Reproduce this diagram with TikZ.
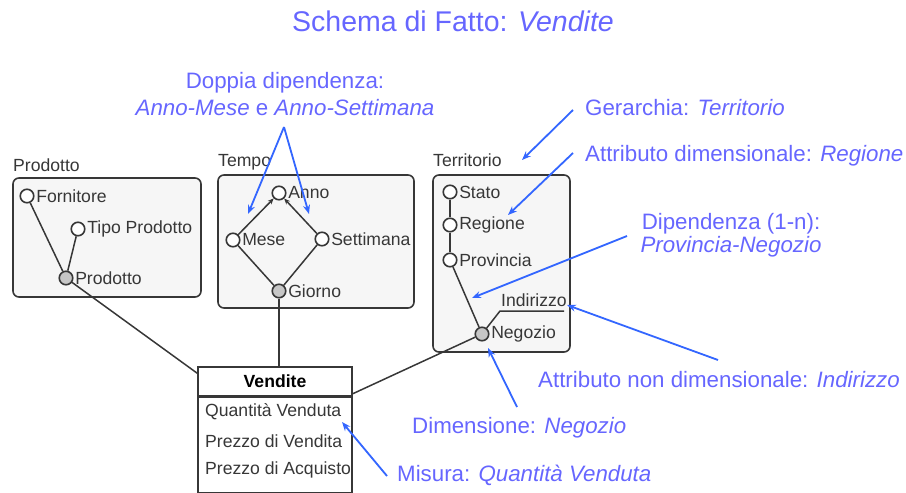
\documentclass[tikz,border=0pt]{standalone}
\usepackage{fontspec}
\setmainfont{Liberation Sans}
\usetikzlibrary{arrows.meta,calc}
\definecolor{annot}{RGB}{102,102,255}
\definecolor{annarr}{RGB}{51,102,255}
\definecolor{boxfill}{RGB}{246,246,246}
\definecolor{edge}{RGB}{55,55,55}
\begin{document}
\begin{tikzpicture}[x=1pt,y=-1pt,
 attr/.style={circle,draw=edge,line width=1.6pt,fill=white,minimum size=13.5pt,inner sep=0pt},
 dimattr/.style={attr,fill=gray!45},
 lbl/.style={font=\fontsize{17.6}{20}\selectfont,text=edge,anchor=west,inner sep=0pt},
 hier/.style={rounded corners=6pt,draw=edge,line width=1.6pt,fill=boxfill},
 link/.style={draw=edge,line width=1.5pt},
 dep/.style={link,-{Stealth[length=6pt,width=5pt]}},
 note/.style={font=\fontsize{22.3}{27}\selectfont,text=annot,inner sep=0pt},
 pointer/.style={draw=annarr,line width=1.8pt,-{Stealth[length=9pt,width=7pt]}}
]
\useasboundingbox (0,0) rectangle (906,493);

% title
\node[font=\fontsize{28.5}{32}\selectfont,text=annot,inner sep=0pt] (title) at (453,21) {Schema di Fatto: \textit{Vendite}};

% hierarchy boxes
\draw[hier] (13,178) rectangle (201,297);
\draw[hier] (218,175) rectangle (414,308);
\draw[hier] (433,175) rectangle (570,352);
\node[lbl] (tprod) at (13,165) {Prodotto};
\node[lbl] (ttempo) at (218,162) {Tempo};
\node[lbl] (tterr) at (433,160) {Territorio};

% Prodotto
\node[attr] (fornitore) at (27,196) {};
\node[attr] (tipo) at (78,229) {};
\node[dimattr] (prodotto) at (66,278) {};
\node[lbl] (fornitoreL) at ([xshift=1.5pt]fornitore.east) {Fornitore};
\node[lbl] (tipoL) at ([xshift=1.5pt]tipo.east) {Tipo Prodotto};
\node[lbl] (prodottoL) at ([xshift=1.5pt]prodotto.east) {Prodotto};
\draw[link] (fornitore) -- (prodotto);
\draw[link] (tipo) -- (prodotto);

% Tempo
\node[attr] (anno) at (279,193) {};
\node[attr] (mese) at (233,240) {};
\node[attr] (settimana) at (322,239) {};
\node[dimattr] (giorno) at (279,291) {};
\node[lbl] (annoL) at ([xshift=1.5pt]anno.east) {Anno};
\node[lbl] (meseL) at ([xshift=1.5pt]mese.east) {Mese};
\node[lbl] (settimanaL) at ([xshift=1.5pt]settimana.east) {Settimana};
\node[lbl] (giornoL) at ([xshift=1.5pt]giorno.east) {Giorno};
\draw[dep] (mese) -- (anno);
\draw[dep] (settimana) -- (anno);
\draw[link] (giorno) -- (mese);
\draw[link] (giorno) -- (settimana);

% Territorio
\node[attr] (stato) at (450,192) {};
\node[attr] (regione) at (450,225) {};
\node[attr] (provincia) at (450,260) {};
\node[dimattr] (negozio) at (482,334) {};
\node[lbl] (statoL) at ([xshift=1.5pt]stato.east) {Stato};
\node[lbl] (regioneL) at ([xshift=1.5pt]regione.east) {Regione};
\node[lbl] (provinciaL) at ([xshift=1.5pt]provincia.east) {Provincia};
\node[lbl] (negozioL) at ([xshift=1.5pt]negozio.east) {Negozio};
\draw[link] (stato) -- (regione);
\draw[link] (regione) -- (provincia);
\draw[link] (provincia) -- (negozio);
\coordinate (ibend) at (500,311);
\coordinate (iend) at (564,311);
\draw[link] (negozio) -- (ibend) -- (iend);
\node[lbl,anchor=base west] (indirizzo) at (501,306) {Indirizzo};

% fact
\node[draw=edge,line width=1.5pt,fill=white,minimum width=154pt,minimum height=29pt,inner sep=0pt,
      font=\bfseries\fontsize{17.6}{20}\selectfont,text=black] (vhead) at (275,381.5) {Vendite};
\node[draw=edge,line width=1.5pt,fill=white,minimum width=154pt,minimum height=95pt,anchor=north,inner sep=0pt] (vbody) at (vhead.south) {};
\node[lbl] (m1) at (205,412) {Quantità Venduta};
\node[lbl] (m2) at (205,441) {Prezzo di Vendita};
\node[lbl] (m3) at (205,470) {Prezzo di Acquisto};

\draw[link] (prodotto) -- ($(vhead.north west)+(0,7)$);
\draw[link] (giorno) -- (vhead.north -| giorno);
\draw[link] (negozio) -- ($(vhead.south east)+(0,-3)$);

% annotations
\node[note,align=center] (doppia) at (285,94) {Doppia dipendenza:\\\textit{Anno-Mese} e \textit{Anno-Settimana}};
\coordinate (dapex) at (284,127);
\coordinate (dmese) at (248,214);
\coordinate (dsett) at (309,214);
\draw[pointer] (dapex) -- (dmese);
\draw[pointer] (dapex) -- (dsett);

\node[note,anchor=west] (gerarchia) at (585,108) {Gerarchia: \textit{Territorio}};
\coordinate (gs) at (573,110);
\coordinate (gt) at (522,160);
\draw[pointer] (gs) -- (gt);

\node[note,anchor=west] (attrdim) at (585,156) {Attributo dimensionale: \textit{Regione}};
\coordinate (as) at (573,153);
\coordinate (at) at (508,215);
\draw[pointer] (as) -- (at);

\node[note,align=center,font=\fontsize{22.3}{23}\selectfont] (dipend) at (731,235) {Dipendenza (1-n):\\\textit{Provincia-Negozio}};
\coordinate (ds) at (627,236);
\coordinate (dt) at (472,298);
\draw[pointer] (ds) -- (dt);

\node[note,anchor=west] (nondim) at (538,380) {Attributo non dimensionale: \textit{Indirizzo}};
\coordinate (ns) at (718,360);
\coordinate (nt) at (567,305);
\draw[pointer] (ns) -- (nt);

\node[note,anchor=west] (dimens) at (412,428) {Dimensione: \textit{Negozio}};
\coordinate (dms) at (517,407);
\coordinate (dmt) at (488,348);
\draw[pointer] (dms) -- (dmt);

\node[note,anchor=west] (misura) at (397,475) {Misura: \textit{Quantità Venduta}};
\coordinate (ms) at (387,476);
\coordinate (mt) at (342,422);
\draw[pointer] (ms) -- (mt);
\end{tikzpicture}
\end{document}
